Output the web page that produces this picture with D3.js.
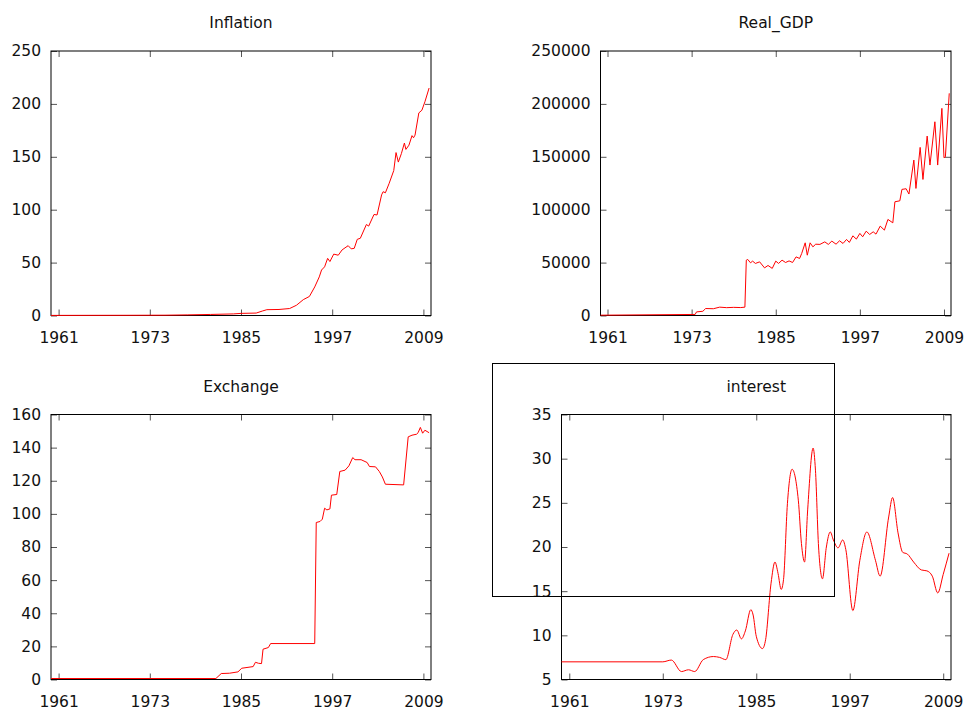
<!DOCTYPE html>
<html>
<head>
<meta charset="utf-8">
<script src="https://cdn.jsdelivr.net/npm/d3@7"></script>
<style>
  body { margin: 0; background: #fff; }
  svg { display: block; }
  .tick text { font-family: "DejaVu Sans", Verdana, sans-serif; font-size: 15.5px; fill: #111; }
  .tick line { stroke: #555; }
  .title { font-family: "DejaVu Sans", Verdana, sans-serif; font-size: 15.5px; fill: #111; }
</style>
</head>
<body>
<div id="chart"></div>
<script>
// x ticks shared by every panel
const yearTicks = [1961, 1973, 1985, 1997, 2009];

// Inflation
const inflationYears = [1960, 1965, 1970, 1975, 1978, 1981, 1984, 1985, 1987, 1987.8, 1988.4, 1990, 1991.4, 1992.3, 1993.2, 1994.0, 1994.7, 1995.3, 1995.6, 1996.0, 1996.4, 1996.7, 1997.2, 1997.8, 1998.3, 1999.1, 1999.5, 1999.9, 2000.3, 2000.7, 2001.5, 2001.8, 2002.5, 2002.9, 2003.5, 2003.7, 2004.0, 2004.5, 2005.1, 2005.4, 2005.7, 2006.1, 2006.5, 2006.7, 2007.1, 2007.5, 2007.7, 2007.9, 2008.4, 2008.8, 2009.2, 2009.75];
const inflationValues = [0.1, 0.15, 0.2, 0.3, 0.6, 1.0, 1.5, 2.0, 2.3, 4.2, 5.5, 5.7, 6.6, 9.7, 15, 18, 27, 36.5, 43, 46, 54, 51, 58, 57, 62, 66, 63, 63.5, 72, 73, 86, 84.5, 95.5, 95, 114, 117, 116, 125, 137, 154, 145, 153, 163, 157, 161, 170, 168, 170.5, 191.5, 194, 202, 215];

// Real_GDP
const gdpYears = [1960, 1973.5, 1973.7, 1974.6, 1975.0, 1976.1, 1977.0, 1978.0, 1979.0, 1980.0, 1980.6, 1980.8, 1981.0, 1981.4, 1981.7, 1982.1, 1982.7, 1983.4, 1983.9, 1984.5, 1985.0, 1985.4, 1985.9, 1986.4, 1986.9, 1987.4, 1987.9, 1988.4, 1988.7, 1989.2, 1989.5, 1989.9, 1990.3, 1990.7, 1991.3, 1992.0, 1992.5, 1993.0, 1993.6, 1994.1, 1994.6, 1995.1, 1995.5, 1996.0, 1996.5, 1997.0, 1997.4, 1997.9, 1998.4, 1998.9, 1999.3, 1999.9, 2000.5, 2001.0, 2001.7, 2002.0, 2002.7, 2003.0, 2003.6, 2004.0, 2004.7, 2005.0, 2005.6, 2006.0, 2006.6, 2007.0, 2007.7, 2008.1, 2008.7, 2009.0, 2009.2, 2009.75];
const gdpValues = [300, 1000, 3400, 4000, 6600, 6400, 7900, 7400, 7700, 7500, 7900, 52300, 53000, 49800, 51400, 49200, 50700, 45000, 47300, 44500, 51400, 49200, 52300, 50100, 51600, 50100, 55400, 53900, 58600, 68700, 57000, 68700, 64900, 67400, 67200, 69600, 67200, 70300, 67400, 70600, 68100, 71900, 69100, 75300, 72200, 77600, 74400, 79700, 76600, 79100, 76900, 84500, 80700, 90800, 87600, 107500, 108400, 119200, 119800, 114800, 146900, 120100, 158900, 128600, 169600, 142200, 183100, 142200, 195800, 149100, 150000, 210000];

// Exchange
const exchangeYears = [1960, 1981.7, 1982.4, 1983.5, 1984.6, 1985.1, 1986.6, 1986.9, 1987.3, 1987.7, 1987.9, 1988.6, 1988.9, 1994.7, 1994.9, 1995.4, 1995.7, 1996.0, 1996.3, 1996.7, 1996.9, 1997.6, 1998.0, 1998.7, 1999.2, 1999.7, 2000.0, 2000.8, 2001.6, 2001.9, 2002.7, 2003.2, 2003.6, 2004.0, 2006.4, 2007.0, 2007.5, 2008.1, 2008.3, 2008.6, 2008.9, 2009.2, 2009.75];
const exchangeValues = [0.6, 0.6, 3.6, 3.8, 4.6, 6.8, 7.8, 10.4, 9.8, 9.6, 18.3, 19.3, 21.7, 21.7, 94.8, 95.4, 96.8, 103.4, 102.4, 103, 111.3, 111.7, 125.6, 126.4, 129, 134, 132.7, 132.7, 131, 128.6, 128.4, 125.6, 122.3, 117.9, 117.5, 146.5, 147.5, 148.1, 149, 152.2, 148.7, 150.5, 149];

// interest
const interestYears = [1960, 1973.0, 1974.1, 1975.4, 1976.3, 1977.1, 1978.2, 1979.5, 1980.3, 1981.1, 1982.0, 1982.5, 1983.1, 1983.6, 1984.3, 1984.6, 1985.0, 1985.8, 1986.2, 1986.9, 1987.4, 1987.8, 1988.2, 1988.5, 1989.0, 1989.6, 1990.4, 1990.8, 1991.2, 1991.6, 1992.3, 1992.6, 1993.0, 1993.5, 1994.0, 1994.5, 1994.9, 1995.5, 1996.1, 1996.5, 1997.4, 1998.3, 1999.2, 2000.3, 2000.9, 2002.0, 2002.5, 2003.2, 2003.8, 2004.4, 2005.2, 2006.2, 2006.9, 2007.6, 2008.3, 2009.0, 2009.75];
const interestValues = [7.0, 7.0, 7.2, 5.9, 6.1, 5.9, 7.25, 7.6, 7.5, 7.25, 10.1, 10.6, 9.6, 10.5, 12.9, 12.3, 9.9, 8.5, 9.5, 15.9, 18.3, 17.0, 15.2, 16.3, 24.9, 28.8, 25.3, 20.4, 18.3, 24.2, 31.2, 28.7, 20.0, 16.4, 20.0, 21.7, 20.8, 19.9, 20.8, 19.7, 12.8, 18.5, 21.7, 18.5, 16.7, 23.4, 25.6, 21.6, 19.4, 19.2, 18.3, 17.4, 17.3, 16.7, 14.8, 16.9, 19.3];

const inflationTicks = [0, 50, 100, 150, 200, 250];
const gdpTicks = [0, 50000, 100000, 150000, 200000, 250000];
const exchangeTicks = [0, 20, 40, 60, 80, 100, 120, 140, 160];
const interestTicks = [5, 10, 15, 20, 25, 30, 35];

const panels = [
  {title: "Inflation", years: inflationYears, values: inflationValues, ticks: inflationTicks,
   box: {left: 51, right: 431, top: 51, bottom: 315.5}, titleY: 28, curve: d3.curveLinear},
  {title: "Real_GDP", years: gdpYears, values: gdpValues, ticks: gdpTicks,
   box: {left: 600.5, right: 951, top: 51, bottom: 315.5}, titleY: 28, curve: d3.curveLinear},
  {title: "Exchange", years: exchangeYears, values: exchangeValues, ticks: exchangeTicks,
   box: {left: 51, right: 431, top: 414.5, bottom: 679.5}, titleY: 392, curve: d3.curveLinear},
  {title: "interest", years: interestYears, values: interestValues, ticks: interestTicks,
   box: {left: 561.5, right: 951, top: 414.5, bottom: 679.5}, titleY: 392, curve: d3.curveMonotoneX}
];

const svg = d3.select("#chart")
  .append("svg")
    .attr("width", 967)
    .attr("height", 709);

panels.forEach(function(p) {
  const b = p.box;
  const x = d3.scaleLinear().domain([1960, 2010]).range([b.left, b.right]);
  const y = d3.scaleLinear().domain([p.ticks[0], p.ticks[p.ticks.length - 1]]).range([b.bottom, b.top]);
  const data = p.years.map(function(t, i) { return {t: t, v: p.values[i]}; });

  // bottom axis with labels, ticks pointing inward
  svg.append("g")
      .attr("transform", `translate(0, ${b.bottom})`)
    .call(d3.axisBottom(x).tickValues(yearTicks).tickFormat(d3.format("d")).tickSizeInner(-6).tickSizeOuter(0).tickPadding(16))
    .call(function(g) { g.select(".domain").remove(); });

  // top mirror ticks
  svg.append("g")
      .attr("transform", `translate(0, ${b.top})`)
    .call(d3.axisTop(x).tickValues(yearTicks).tickFormat("").tickSizeInner(-6).tickSizeOuter(0))
    .call(function(g) { g.select(".domain").remove(); });

  // left axis
  svg.append("g")
      .attr("transform", `translate(${b.left}, 0)`)
    .call(d3.axisLeft(y).tickValues(p.ticks).tickFormat(d3.format("d")).tickSizeInner(-6).tickSizeOuter(0).tickPadding(10))
    .call(function(g) { g.select(".domain").remove(); });

  // right mirror ticks
  svg.append("g")
      .attr("transform", `translate(${b.right}, 0)`)
    .call(d3.axisRight(y).tickValues(p.ticks).tickFormat("").tickSizeInner(-6).tickSizeOuter(0))
    .call(function(g) { g.select(".domain").remove(); });

  // plot border
  svg.append("rect")
      .attr("x", b.left)
      .attr("y", b.top)
      .attr("width", b.right - b.left)
      .attr("height", b.bottom - b.top)
      .attr("fill", "none")
      .attr("stroke", "#000");

  // series line
  svg.append("path")
    .datum(data)
      .attr("fill", "none")
      .attr("stroke", "#ff0000")
      .attr("stroke-width", 1)
      .attr("d", d3.line()
        .curve(p.curve)
        .x(function(d) { return x(d.t); })
        .y(function(d) { return y(d.v); }));

  // title
  svg.append("text")
      .attr("class", "title")
      .attr("x", (b.left + b.right) / 2)
      .attr("y", p.titleY)
      .attr("text-anchor", "middle")
    .text(p.title);
});

// stray frame drawn over the interest panel
svg.append("rect")
    .attr("x", 492.5)
    .attr("y", 363.5)
    .attr("width", 342)
    .attr("height", 233)
    .attr("fill", "none")
    .attr("stroke", "#000");
</script>
</body>
</html>
